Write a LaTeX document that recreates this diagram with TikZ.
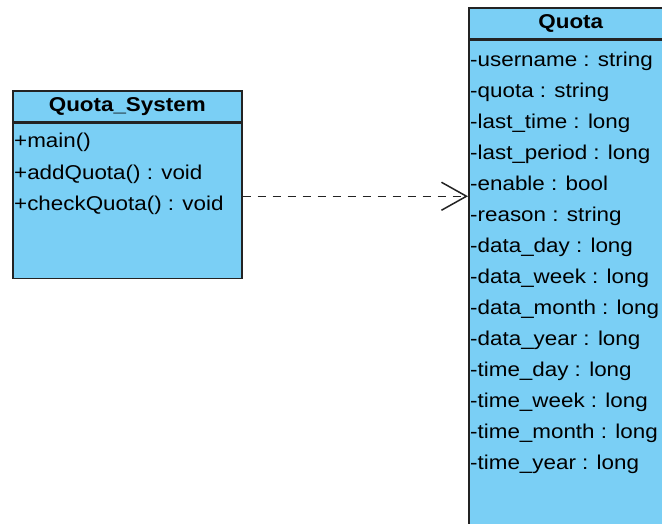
\documentclass[tikz,border=0pt]{standalone}
\usepackage{fontspec}
\setmainfont{Liberation Sans}[FakeStretch=1.12]
\usetikzlibrary{arrows.meta,positioning}

\definecolor{umlblue}{RGB}{122,207,245}
\definecolor{umlline}{RGB}{35,35,35}

\tikzset{
    classhead/.style={draw=umlline, line width=1.5pt, fill=umlblue, anchor=north west,
        minimum height=31pt, inner sep=0pt, font=\fontsize{20}{24}\selectfont\bfseries},
    classbody/.style={draw=umlline, line width=1.5pt, fill=umlblue, anchor=north,
        inner sep=0pt},
    member/.style={anchor=west, inner sep=0pt, text height=14pt, text depth=4pt,
        font=\fontsize{20}{24}\selectfont},
    depend/.style={draw=umlline, line width=1.5pt, dash pattern=on 8pt off 7pt,
        -{Straight Barb[length=25pt,width=28pt]}}
}

\begin{document}
\begin{tikzpicture}[x=1pt, y=-1pt]
    \useasboundingbox (0,0) rectangle (662,523);
    \clip (0,0) rectangle (662,523);

    % Quota_System
    \node[classhead, minimum width=229pt] (sys) at (12,90) {Quota\_System};
    \node[classbody, minimum width=229pt, minimum height=155pt] (sysbody) at (sys.south) {};
    \node[member] (main) at (14,142) {+main()};
    \node[member] (addq) at (14,174) {+addQuota() : void};
    \node[member] (checkq) at (14,205) {+checkQuota() : void};

    % Quota
    \node[classhead, minimum width=204pt] (quota) at (468,7) {Quota};
    \node[classbody, minimum width=204pt, minimum height=502pt] (quotabody) at (quota.south) {};
    \foreach \attr [count=\i from 0] in {-username : string, -quota : string,
        -last\_time : long, -last\_period : long, -enable : bool, -reason : string,
        -data\_day : long, -data\_week : long, -data\_month : long, -data\_year : long,
        -time\_day : long, -time\_week : long, -time\_month : long, -time\_year : long} {
        \node[member] (attr\i) at (470,61+31*\i) {\attr};
    }

    % dependency
    \draw[depend] ([yshift=4.5pt]sysbody.east) -- ([yshift=4.5pt]sysbody.east -| quotabody.west);
\end{tikzpicture}
\end{document}
